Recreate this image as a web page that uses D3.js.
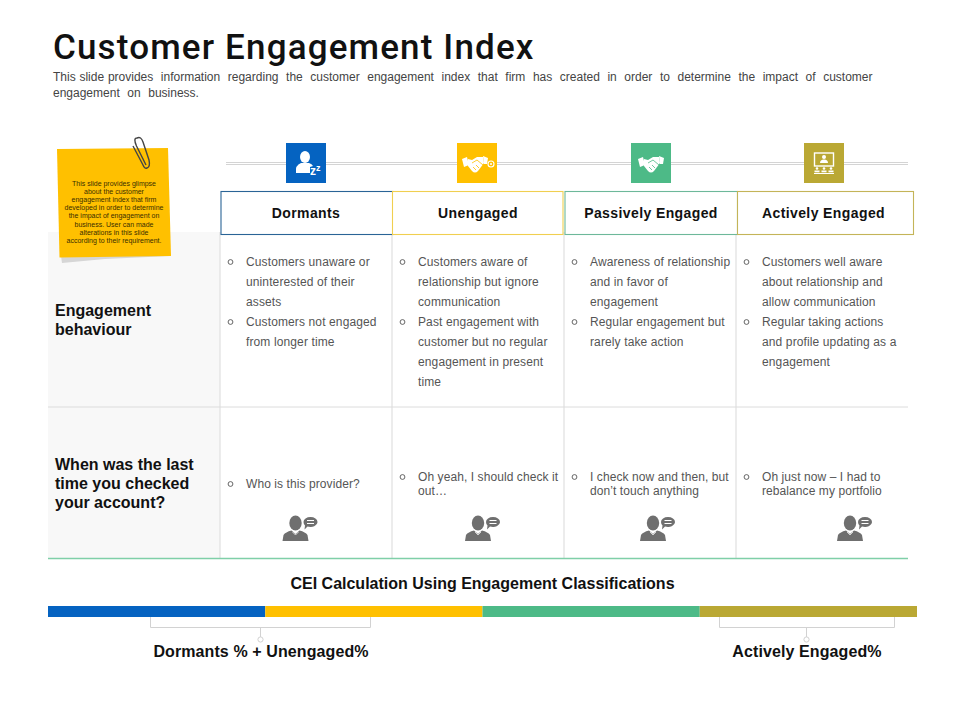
<!DOCTYPE html>
<html>
<head>
<meta charset="utf-8">
<script src="https://d3js.org/d3.v7.min.js"></script>
<style>
  html, body { margin: 0; padding: 0; background: #fff; }
  svg { display: block; }
  text { font-family: "Liberation Sans", Arial, sans-serif; }
</style>
</head>
<body>
<svg id="slide" width="960" height="720"></svg>
<script>
// slide text
var titleText = "Customer Engagement Index";
var subtitleLines = [
  "This slide provides  information  regarding  the  customer  engagement  index  that  firm  has  created  in  order  to  determine  the  impact  of  customer",
  "engagement  on  business."
];
var noteLines = [
  "This slide provides glimpse",
  "about the customer",
  "engagement index that firm",
  "developed in order to determine",
  "the impact of engagement on",
  "business. User can made",
  "alterations in this slide",
  "according to their requirement."
];

var categories = ["Dormants", "Unengaged", "Passively Engaged", "Actively Engaged"];
var colors = ["#0563c1", "#ffc000", "#4dba87", "#baa834"];
var borderColors = ["#2a6496", "#f0cf50", "#6db89a", "#c4b458"];
var shares = [25, 25, 25, 25];

var rowLabels = [
  ["Engagement", "behaviour"],
  ["When was the last", "time you checked", "your account?"]
];

// one list of bullets per column, each bullet is its wrapped lines
var behaviour = [
  [["Customers unaware or", "uninterested of their", "assets"], ["Customers not engaged", "from longer time"]],
  [["Customers aware of", "relationship but ignore", "communication"], ["Past engagement with", "customer but no regular", "engagement in present", "time"]],
  [["Awareness of relationship", "and in favor of", "engagement"], ["Regular engagement but", "rarely take action"]],
  [["Customers well aware", "about relationship and", "allow communication"], ["Regular taking actions", "and profile updating as a", "engagement"]]
];
var lastCheck = [
  ["Who is this provider?"],
  ["Oh yeah, I should check it", "out…"],
  ["I check now and then, but", "don’t touch anything"],
  ["Oh just now – I had to", "rebalance my portfolio"]
];

var calcTitle = "CEI Calculation Using Engagement Classifications";
var calcLabels = ["Dormants % + Unengaged%", "Actively Engaged%"];

var svg = d3.select("#slide");

// columns of the table
var colX = d3.scaleBand().domain(categories).range([220, 908]);
var barX = d3.scaleLinear().domain([0, d3.sum(shares)]).range([48, 917]);

// white glyphs inside the tiles
function sleeperIcon(g) {
  g.append("ellipse").attr("cx", -1).attr("cy", -6).attr("rx", 5).attr("ry", 6).attr("fill", "#fff");
  g.append("path").attr("d", "M-10,10 Q-11,2 -5,0 L3,0 Q6,1 7,3 L4,4 L4,10 Z").attr("fill", "#fff");
  g.append("text").attr("x", 4).attr("y", 12).text("z").attr("font-size", 12).attr("font-weight", "bold").attr("fill", "#fff");
  g.append("text").attr("x", 10).attr("y", 8).text("z").attr("font-size", 9).attr("font-weight", "bold").attr("fill", "#fff");
}
function handshake(g, dx, bg) {
  var h = g.append("g").attr("transform", "translate(" + dx + ",0)").attr("fill", "#fff");
  h.append("path").attr("d", "M-13,-4 L-8,-6 L-6,2 L-11,4 Z");
  h.append("path").attr("d", "M8,-7 L13,-5 L12,1 L9,1 Z");
  h.append("path").attr("d", "M-7,-4 L-3,-3 L2,-6 L8,-6 L9,0 L3,8 Q0,11 -3,8 L-7,3 Z");
  h.append("path").attr("d", "M-3,0 L2,-3 L8,2 M-2,4 L1,7 M1,2 L4,5")
    .attr("fill", "none").attr("stroke", bg).attr("stroke-width", 0.8);
}
function serviceIcon(g) {
  handshake(g, -2, colors[1]);
  g.append("circle").attr("cx", 14).attr("cy", 1).attr("r", 3).attr("fill", "none").attr("stroke", "#fff").attr("stroke-width", 1.1);
  g.append("circle").attr("cx", 14).attr("cy", 1).attr("r", 1).attr("fill", "#fff");
}
function partnerIcon(g) {
  handshake(g, 0, colors[2]);
}
function meetingIcon(g) {
  g.append("rect").attr("x", -9.5).attr("y", -10).attr("width", 19).attr("height", 13).attr("fill", "none").attr("stroke", "#fff").attr("stroke-width", 1.4);
  g.append("circle").attr("cx", 0).attr("cy", -6).attr("r", 2).attr("fill", "#fff");
  g.append("path").attr("d", "M-4,0 Q-4,-3.5 0,-3.5 Q4,-3.5 4,0 Z").attr("fill", "#fff");
  [-7, 0, 7].forEach(function (x) {
    g.append("circle").attr("cx", x).attr("cy", 5.5).attr("r", 1.3).attr("fill", "#fff");
    g.append("rect").attr("x", x - 2.5).attr("y", 7.5).attr("width", 5).attr("height", 1.8).attr("fill", "#fff");
  });
  g.append("rect").attr("x", -10).attr("y", 10).attr("width", 20).attr("height", 1).attr("fill", "#fff");
}
var drawIcon = [sleeperIcon, serviceIcon, partnerIcon, meetingIcon];

//title
svg.append("text").attr("x", 53).attr("y", 59).text(titleText)
  .attr("font-size", 35).attr("font-weight", 500).attr("fill", "#111")
  .style("font-family", "Roboto").attr("letter-spacing", 1.15);

svg.selectAll(".sub").data(subtitleLines).join("text")
  .attr("class", "sub").attr("x", 53).attr("y", (d, i) => 81 + i * 16)
  .attr("font-size", 12).attr("fill", "#444").attr("word-spacing", 0.45)
  .style("white-space", "pre").text(d => d);

// grey left panel
svg.append("rect").attr("x", 48).attr("y", 232).attr("width", 172).attr("height", 326).attr("fill", "#f8f8f8");

// table lines
categories.forEach(function (c) {
  var x = colX(c);
  svg.append("line").attr("x1", x).attr("x2", x).attr("y1", 232).attr("y2", 558)
    .attr("stroke", "#e6e6e6").attr("stroke-width", 1.5);
});
svg.append("line").attr("x1", 48).attr("x2", 908).attr("y1", 407).attr("y2", 407)
  .attr("stroke", "#dcdcdc").attr("stroke-width", 1);
svg.append("line").attr("x1", 48).attr("x2", 908).attr("y1", 558.5).attr("y2", 558.5)
  .attr("stroke", "#7fcfa8").attr("stroke-width", 1.3);

// double rule behind the icons
[162.5, 164.5].forEach(function (y) {
  svg.append("line").attr("x1", 226).attr("x2", 908).attr("y1", y).attr("y2", y)
    .attr("stroke", "#d4d4d4").attr("stroke-width", 1);
});

// icon tiles
var iconCx = [306, 477, 651, 824];
categories.forEach(function (c, i) {
  var g = svg.append("g").attr("transform", "translate(" + iconCx[i] + ",163)");
  g.append("rect").attr("x", -20).attr("y", -20).attr("width", 40).attr("height", 40).attr("fill", colors[i]);
  drawIcon[i](g);
});

// header boxes
var boxX = [[221, 393], [392.5, 563], [565, 737.5], [737.5, 913.5]];
var headCx = [306, 478, 651, 823.5];
categories.forEach(function (c, i) {
  svg.append("rect").attr("x", boxX[i][0]).attr("y", 191.5)
    .attr("width", boxX[i][1] - boxX[i][0]).attr("height", 43)
    .attr("fill", "#fff").attr("stroke", borderColors[i]).attr("stroke-width", 1.1);
  svg.append("text").attr("x", headCx[i]).attr("y", 218)
    .attr("text-anchor", "middle").attr("font-size", 14).attr("font-weight", "bold")
    .attr("letter-spacing", 0.4).attr("fill", "#111").text(c);
});

// row labels
rowLabels[0].forEach(function (t, i) {
  svg.append("text").attr("x", 55).attr("y", 316 + i * 19).text(t)
    .attr("font-size", 16).attr("font-weight", "bold").attr("fill", "#111");
});
rowLabels[1].forEach(function (t, i) {
  svg.append("text").attr("x", 55).attr("y", 470 + i * 19).text(t)
    .attr("font-size", 16).attr("font-weight", "bold").attr("fill", "#111");
});

function bullet(x, y) {
  svg.append("circle").attr("cx", x).attr("cy", y).attr("r", 2.4)
    .attr("fill", "none").attr("stroke", "#555").attr("stroke-width", 0.9);
}

// behaviour row
behaviour.forEach(function (col, i) {
  var x = colX(categories[i]);
  var y = 266;
  col.forEach(function (lines) {
    bullet(x + 10.5, y - 4);
    lines.forEach(function (t) {
      svg.append("text").attr("x", x + 26).attr("y", y).text(t)
        .attr("font-size", 12).attr("letter-spacing", 0.12).attr("fill", "#555");
      y += 20;
    });
  });
});

// last check row
lastCheck.forEach(function (lines, i) {
  var x = colX(categories[i]);
  var y = lines.length == 1 ? 488 : 481;
  bullet(x + 10.5, y - 4);
  lines.forEach(function (t, k) {
    svg.append("text").attr("x", x + 26).attr("y", y + k * 14).text(t)
      .attr("font-size", 12).attr("letter-spacing", 0.08).attr("fill", "#555");
  });
});

// speaker icons
[295.5, 478, 653, 850].forEach(function (cx) {
  var g = svg.append("g").attr("transform", "translate(" + cx + ",529)").attr("fill", "#6f6f6f");
  g.append("ellipse").attr("cx", 0).attr("cy", -6).attr("rx", 6.2).attr("ry", 7.5);
  g.append("path").attr("d", "M-13,12 L-12,6 Q-10,3 -4,1.5 L0,5 L4,1.5 Q10,3 12,6 L13,12 Z");
  g.append("path").attr("d", "M-3,3 L0,6 L3,3").attr("fill", "none").attr("stroke", "#fff").attr("stroke-width", 0.7);
  g.append("path").attr("d", "M8,-13 a7,5 0 0 1 14,0 a7,5 0 0 1 -10,4.4 L9,-5.5 L9.5,-9.5 Q8,-11 8,-13 Z")
    .attr("transform", "translate(0,6)");
  g.append("path").attr("d", "M11.5,-8.5 h7 M11.5,-5.5 h7").attr("stroke", "#fff").attr("stroke-width", 1.1);
});

// calculation part
svg.append("text").attr("x", 482.5).attr("y", 589).attr("text-anchor", "middle")
  .attr("font-size", 16).attr("font-weight", "bold").attr("fill", "#111")
  .text(calcTitle);

var stack = d3.cumsum(shares);
svg.selectAll(".seg").data(shares).join("rect").attr("class", "seg")
  .attr("x", (d, i) => barX(stack[i] - d))
  .attr("width", (d, i) => barX(stack[i]) - barX(stack[i] - d))
  .attr("y", 606).attr("height", 11)
  .attr("fill", (d, i) => colors[i]);

// brackets under the bar
[[150.5, 370.5, 260.5, 261], [719.5, 894.5, 806.5, 807]].forEach(function (b, i) {
  svg.append("path").attr("d", "M" + b[0] + ",617 V627.5 H" + b[1] + " V617 M" + b[2] + ",627.5 V637")
    .attr("fill", "none").attr("stroke", "#d2d2d2").attr("stroke-width", 1);
  svg.append("circle").attr("cx", b[2]).attr("cy", 639.5).attr("r", 2.6)
    .attr("fill", "#fff").attr("stroke", "#d2d2d2").attr("stroke-width", 1);
  svg.append("text").attr("x", b[3]).attr("y", 657).attr("text-anchor", "middle")
    .attr("font-size", 16).attr("font-weight", "bold").attr("letter-spacing", 0.1).attr("fill", "#111")
    .text(calcLabels[i]);
});

// sticky note on top of the panel
svg.append("path").attr("d", "M61,256 L62,263 L105,259 L170,256 Z").attr("fill", "#d6d6d6");
svg.append("path").attr("d", "M57,149 L168,148 L171,256 L59.5,257.5 Z").attr("fill", "#ffc000");
svg.selectAll(".note").data(noteLines).join("text").attr("class", "note")
  .attr("x", 114).attr("y", (d, i) => 186 + i * 8.1)
  .attr("text-anchor", "middle").attr("font-size", 7).attr("fill", "#3a2e00").text(d => d);
// paperclip
svg.append("path")
  .attr("d", "M146,165 L136.5,146 Q133,138 137,138 Q141,136 143,142 L149,160 Q150.5,167 147,168 Q144.5,169 143,165 L133,146")
  .attr("fill", "none").attr("stroke", "#444").attr("stroke-width", 1.4);
</script>
</body>
</html>
